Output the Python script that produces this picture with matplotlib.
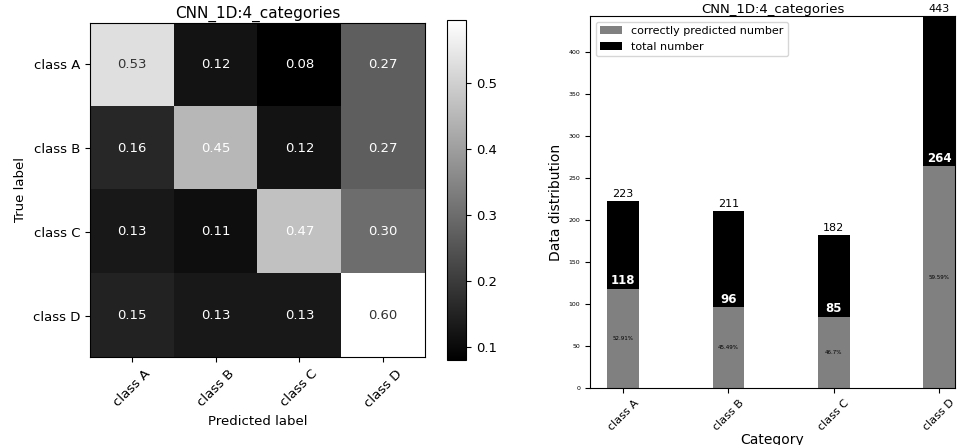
import numpy as np
import matplotlib.pyplot as plt

classes = ['class A', 'class B', 'class C', 'class D']
cm = np.array([[0.53, 0.12, 0.08, 0.27],
               [0.16, 0.45, 0.12, 0.27],
               [0.13, 0.11, 0.47, 0.30],
               [0.15, 0.13, 0.13, 0.60]])
total = [223, 211, 182, 443]
correct = [118, 96, 85, 264]
pct = ['52.91%', '45.49%', '46.7%', '59.59%']

fig = plt.figure(figsize=(9.62, 4.45), dpi=100)

ax1 = fig.add_axes([90/962, 1-360/445, 335/962, 340/445])
im = ax1.imshow(cm, cmap='gray', vmin=0.08, vmax=0.595)
for i in range(4):
    for j in range(4):
        ax1.text(j, i, '%.2f' % cm[i, j], ha='center', va='center', fontsize=9.5,
                 color='#333333' if cm[i, j] > 0.5 else 'white')
ax1.set_xticks(range(4))
ax1.set_xticklabels(classes, rotation=45, fontsize=9.5)
ax1.set_yticks(range(4))
ax1.set_yticklabels(classes, fontsize=9.5)
ax1.set_xlabel('Predicted label', fontsize=9.5)
ax1.set_ylabel('True label', fontsize=9.5)
ax1.set_title('CNN_1D:4_categories', fontsize=11, pad=3)
cax = fig.add_axes([447/962, 1-360/445, 19/962, 340/445])
cb = fig.colorbar(im, cax=cax, ticks=[0.1, 0.2, 0.3, 0.4, 0.5])
cb.ax.tick_params(labelsize=9.5)

ax2 = fig.add_axes([590/962, 1-388/445, 365/962, 372/445])
x = np.arange(4)
ax2.bar(x, total, 0.3, color='black', label='total number')
ax2.bar(x, correct, 0.3, color='gray', label='correctly predicted number')
for i in range(4):
    ax2.text(x[i], total[i] + 2, str(total[i]), ha='center', va='bottom', fontsize=8)
    ax2.text(x[i], correct[i] + 2, str(correct[i]), ha='center', va='bottom',
             fontsize=8.5, color='white', fontweight='bold')
    ax2.text(x[i], correct[i] / 2, pct[i], ha='center', va='center', fontsize=4)
ax2.set_xlim(-0.314, 3.15)
ax2.set_ylim(0, 443)
ax2.set_xticks(x)
ax2.set_xticklabels(classes, rotation=45, fontsize=8)
ax2.tick_params(axis='y', labelsize=4.5)
ax2.set_xlabel('Category', fontsize=10, labelpad=0)
ax2.set_ylabel('Data distribution', fontsize=10)
ax2.set_title('CNN_1D:4_categories', fontsize=9.5, pad=1)
h, l = ax2.get_legend_handles_labels()
ax2.legend(h[::-1], l[::-1], loc='upper left', fontsize=8)

fig.savefig('out.png', dpi=100)
